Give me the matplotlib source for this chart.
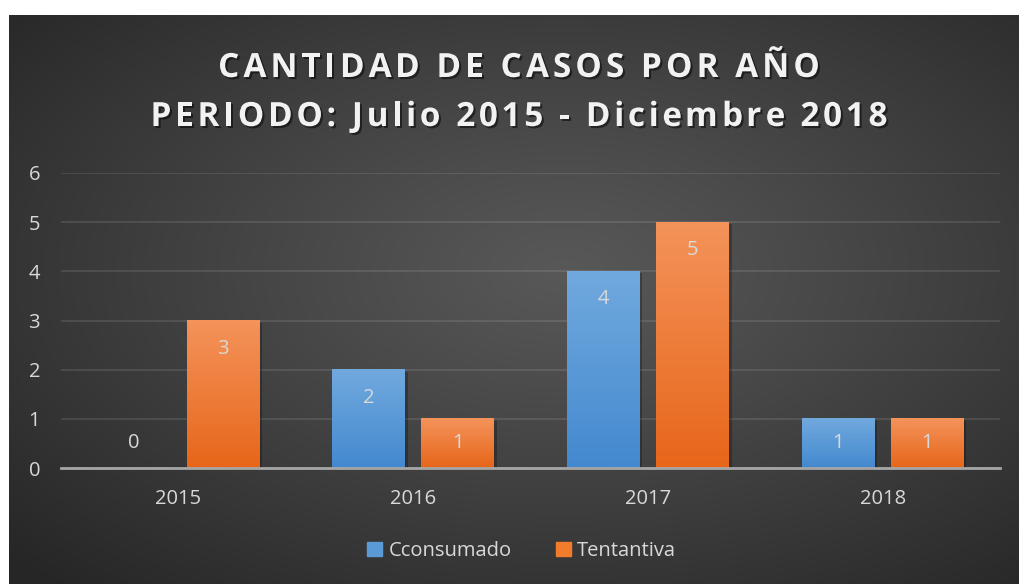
import numpy as np
import matplotlib
matplotlib.use("Agg")
import matplotlib.pyplot as plt
from matplotlib.patches import Patch
from matplotlib.font_manager import FontProperties
import matplotlib.patheffects as pe

# datos
anios = ["2015", "2016", "2017", "2018"]
consumado = [0, 2, 4, 1]
tentativa = [3, 1, 5, 1]
series = ["Cconsumado", "Tentantiva"]
titulo = ["CANTIDAD DE CASOS POR AÑO", "PERIODO: Julio 2015 - Diciembre 2018"]

W, H = 1019, 584
fig = plt.figure(figsize=(W / 100, H / 100), dpi=100, facecolor="white")

# fondo oscuro con degradado radial
bg = fig.add_axes([9 / W, 0, 1 - 9 / W, 1 - 15 / H], zorder=0)
gx, gy = np.meshgrid(np.linspace(0, 1, 400), np.linspace(0, 1, 240))
r = np.sqrt(((gx - 0.55) / 0.75) ** 2 + ((gy - 0.45) / 0.75) ** 2)
r = np.clip(r, 0, 1)
val = 0.345 - (0.345 - 0.15) * r ** 1.1
img = np.dstack([val, val, val])
bg.imshow(img, extent=[0, 1, 0, 1], aspect="auto", origin="upper")
bg.set_axis_off()

ax = fig.add_axes([61 / W, 1 - 468 / H, 939 / W, 295 / H], zorder=1)
ax.patch.set_alpha(0)

x = np.arange(len(anios))
ancho = 0.31
desp = 0.19
txt = "#d9d9d9"
fuente = "Open Sans"


def barras_degradado(xs, vals, top, bottom):
    bars = ax.bar(xs, vals, ancho, color=bottom, zorder=3,
                  path_effects=[pe.SimplePatchShadow(offset=(2, -1.5), alpha=0.25, shadow_rgbFace="black"), pe.Normal()])
    grad = np.linspace(0, 1, 100).reshape(-1, 1)
    c0 = np.array(matplotlib.colors.to_rgb(top))
    c1 = np.array(matplotlib.colors.to_rgb(bottom))
    cols = c0 + (c1 - c0) * grad[..., None]
    cols = cols.reshape(100, 1, 3)
    for b in bars:
        if b.get_height() <= 0:
            continue
        x0 = b.get_x()
        ax.imshow(cols, extent=[x0, x0 + b.get_width(), 0, b.get_height()],
                  aspect="auto", origin="upper", zorder=4)
    for xi, v in zip(xs, vals):
        ax.text(xi, max(v - 0.57, 0.5), str(v), ha="center", va="center",
                color=txt, fontsize=14.5, family=fuente, zorder=6)
    return bars


barras_degradado(x - desp, consumado, "#71a9de", "#4389cf")
barras_degradado(x + desp, tentativa, "#f4935a", "#e7661a")

ax.set_xlim(-0.5, len(anios) - 0.5)
ax.set_ylim(0, 6)
ax.set_yticks(range(0, 7))
ax.set_xticks(x)
ax.set_xticklabels(anios)
ax.grid(axis="y", color="white", alpha=0.12, lw=1.2, zorder=1)
ax.set_axisbelow(True)
for s in ["top", "right", "left"]:
    ax.spines[s].set_visible(False)
ax.spines["bottom"].set_color("#a6a6a6")
ax.spines["bottom"].set_linewidth(2)
ax.spines["bottom"].set_zorder(5)
ax.tick_params(length=0, colors=txt, labelsize=14.5)
ax.tick_params(axis="y", pad=15)
ax.tick_params(axis="x", pad=15)
for lab in ax.get_xticklabels() + ax.get_yticklabels():
    lab.set_family(fuente)

# leyenda
handles = [Patch(color="#5b9bd5"), Patch(color="#f07c2c")]
fig.legend(handles, series, loc="center", bbox_to_anchor=(0.512, 1 - 551 / H), ncol=2,
           frameon=False, handlelength=0.75, handleheight=0.75, handletextpad=0.3,
           columnspacing=2.2, prop={"family": fuente, "size": 14.5}, labelcolor=txt)

# titulo con espaciado entre letras
renderer = fig.canvas.get_renderer()
prop = FontProperties(family=fuente, weight="bold", size=24)


def ancho_px(s):
    w, _, _ = renderer.get_text_width_height_descent(s + "x", prop, ismath=False)
    wx, _, _ = renderer.get_text_width_height_descent("x", prop, ismath=False)
    return w - wx


def titulo_espaciado(s, cy, track):
    total = ancho_px(s) + track * (len(s) - 1)
    x0 = 519 - total / 2
    for i, ch in enumerate(s):
        if ch == " ":
            continue
        xp = x0 + ancho_px(s[:i]) + track * i
        fig.text(xp / W, 1 - cy / H, ch, fontproperties=prop, color="#f2f2f2",
                 ha="left", va="baseline", zorder=10,
                 path_effects=[pe.withSimplePatchShadow(offset=(1.5, -1.5), alpha=0.5, shadow_rgbFace="black")])


titulo_espaciado(titulo[0], 77, 4.0)
titulo_espaciado(titulo[1], 126, 3.6)

fig.savefig("out.png", dpi=100, facecolor="white")
